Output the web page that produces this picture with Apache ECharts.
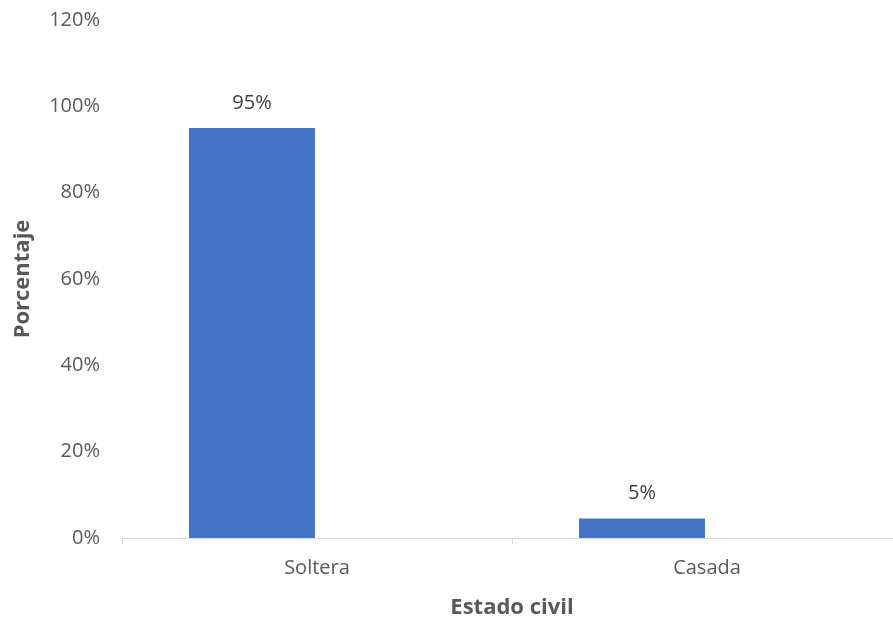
<!DOCTYPE html>
<html>
<head>
<meta charset="utf-8">
<script src="https://cdn.jsdelivr.net/npm/echarts@6/dist/echarts.min.js"></script>
<style>html,body{margin:0;padding:0;background:#fff}#c{width:893px;height:621px}</style>
</head>
<body>
<div id="c"></div>
<script>
const categories = ['Soltera', 'Casada'];
const values = [95, 4.5];
const emptySeries = [null, null];
const yTicks = [0, 20, 40, 60, 80, 100, 120];

const chart = echarts.init(document.getElementById('c'), null, {renderer: 'canvas'});
const font = 'Open Sans, Liberation Sans, sans-serif';
chart.setOption({
  animation: false,
  grid: {left: 122, width: 780, top: 20, height: 518, containLabel: false, outerBoundsMode: 'none'},
  xAxis: {
    type: 'category',
    data: categories,
    name: 'Estado civil',
    nameLocation: 'middle',
    nameGap: 59,
    nameTextStyle: {fontFamily: font, fontSize: 22, fontWeight: 'bold', color: '#595959'},
    axisLine: {lineStyle: {color: '#d9d9d9', width: 1}},
    axisTick: {show: true, length: 6, lineStyle: {color: '#d9d9d9'}},
    axisLabel: {fontFamily: font, fontSize: 20, color: '#595959', margin: 20}
  },
  yAxis: {
    type: 'value',
    min: yTicks[0],
    max: yTicks[yTicks.length - 1],
    interval: 20,
    name: 'Porcentaje',
    nameLocation: 'middle',
    nameGap: 88,
    nameRotate: 90,
    nameTextStyle: {fontFamily: font, fontSize: 22, fontWeight: 'bold', color: '#595959'},
    axisLine: {show: false},
    axisTick: {show: false},
    splitLine: {show: false},
    axisLabel: {fontFamily: font, fontSize: 20, color: '#595959', margin: 22, formatter: v => v + '%'}
  },
  series: [
    {
      type: 'bar',
      data: values,
      barWidth: 126,
      barGap: '3.2%',
      itemStyle: {color: '#4472C4'},
      label: {show: true, position: 'top', distance: 15, fontFamily: font, fontSize: 20, color: '#404040',
        formatter: p => Math.round(p.value) + '%'}
    },
    {
      type: 'bar',
      data: emptySeries,
      barWidth: 126,
      barGap: '3.2%'
    }
  ]
});
</script>
</body>
</html>
